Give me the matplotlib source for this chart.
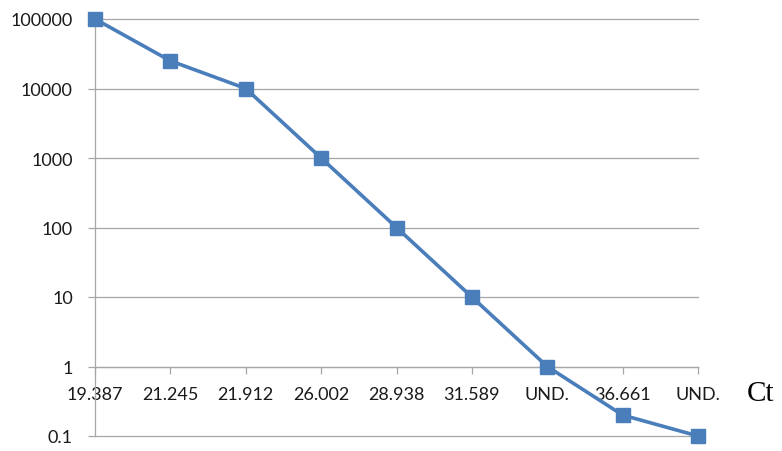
import matplotlib
matplotlib.use("Agg")
import matplotlib.pyplot as plt
from matplotlib.ticker import NullLocator

# Data
ct_labels = ["19.387", "21.245", "21.912", "26.002", "28.938", "31.589", "UND.", "36.661", "UND."]
copies = [100000, 25000, 10000, 1000, 100, 10, 1, 0.2, 0.1]
y_ticks = [0.1, 1, 10, 100, 1000, 10000, 100000]
y_tick_labels = ["0.1", "1", "10", "100", "1000", "10000", "100000"]

W, H = 782, 452
fig = plt.figure(figsize=(W / 100, H / 100), dpi=100)
left, right, top, bottom = 95, 698, 20, 437
ax = fig.add_axes([left / W, 1 - bottom / H, (right - left) / W, (bottom - top) / H])

grid_col = "#A6A6A6"
line_col = "#4A7EBB"
font = ["Lato", "DejaVu Sans"]

for s in ["top", "right"]:
    ax.spines[s].set_visible(False)
ax.set_yscale("log")
ax.spines["bottom"].set_position(("data", 1))
ax.spines["bottom"].set_color(grid_col)
ax.spines["bottom"].set_linewidth(0.9)
ax.spines["left"].set_color(grid_col)
ax.spines["left"].set_linewidth(0.9)

x = list(range(len(ct_labels)))
ax.plot(x, copies, color=line_col, lw=2.6, marker="s", markersize=9.5,
        markerfacecolor=line_col, markeredgecolor=line_col, clip_on=False, zorder=5)

ax.set_ylim(0.1, 100000)
ax.set_xlim(0, len(ct_labels) - 1)
ax.yaxis.set_minor_locator(NullLocator())
ax.set_yticks(y_ticks)
ax.set_yticklabels(y_tick_labels, family=font, fontsize=13, color="#1a1a1a")
ax.set_xticks(x)
ax.set_xticklabels(ct_labels, family=font, fontsize=13, color="#1a1a1a")

ax.grid(axis="y", color=grid_col, lw=0.9)
ax.set_axisbelow(True)
for gl in ax.get_ygridlines():
    gl.set_clip_on(False)

ax.tick_params(axis="y", direction="out", length=5, width=0.9, color=grid_col, pad=11)
ax.tick_params(axis="x", direction="out", length=5, width=0.9, color=grid_col, pad=9)

fig.text(760 / W, 1 - 394 / H, "Ct", family=["Liberation Serif", "DejaVu Serif"],
         fontsize=21, ha="center", va="center", color="#000000")

fig.savefig("out.png", dpi=100)
